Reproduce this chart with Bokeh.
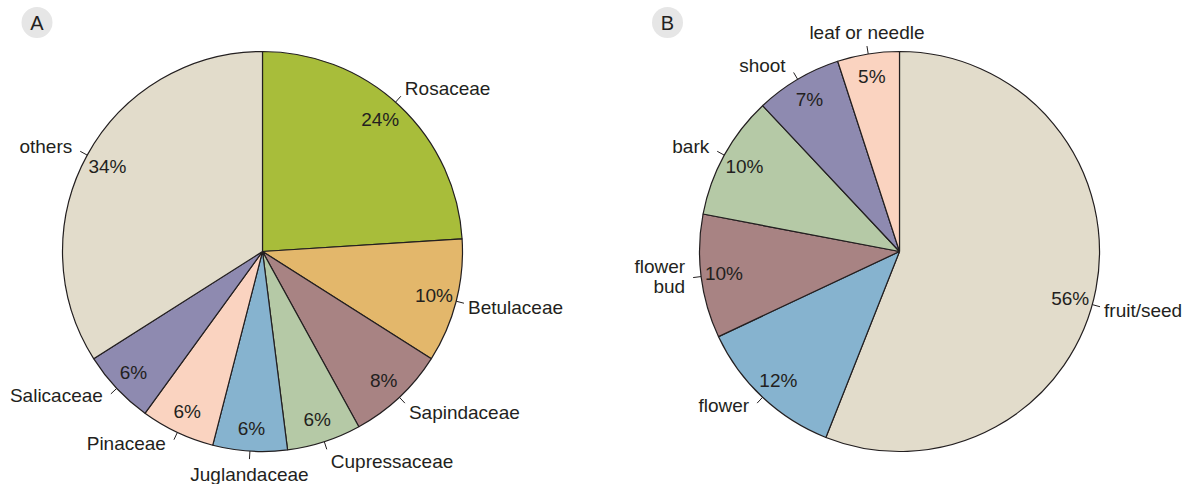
import math
from bokeh.plotting import figure
from bokeh.models import Range1d, ColumnDataSource
from bokeh.core.properties import value
from bokeh.embed import file_html
from bokeh.resources import INLINE

# ---- data ----
families = ["Rosaceae", "Betulaceae", "Sapindaceae", "Cupressaceae",
            "Juglandaceae", "Pinaceae", "Salicaceae", "others"]
family_pct = [24, 10, 8, 6, 6, 6, 6, 34]

organs = ["fruit/seed", "flower", "flower\nbud", "bark", "shoot", "leaf or needle"]
organ_pct = [56, 12, 10, 10, 7, 5]

# ---- styles / layout ----
family_colors = ["#a8bd3a", "#e3b76b", "#a88383", "#b5c9a6",
                 "#86b3cf", "#fad3c0", "#8e8ab0", "#e2dccb"]
organ_colors = ["#e2dccb", "#86b3cf", "#a88383", "#b5c9a6", "#8e8ab0", "#fad3c0"]
label_angle_nudge = {"fruit/seed": -4.6, "Rosaceae": 1.5}  # degrees, label placement only
INK = "#231f20"
FONT = value("Liberation Sans")
FS = "19px"

W, H = 1198, 484
p = figure(width=W, height=H, x_range=Range1d(0, W), y_range=Range1d(0, H),
           output_backend="svg", toolbar_location=None, min_border=0)
p.axis.visible = False
p.grid.visible = False
p.outline_line_color = None


def Y(img_y):
    return H - img_y


R = 200


def draw_pie(cx, cy, labels, pcts, colors):
    n = len(pcts)
    starts, ends, mids = [], [], []
    cum = 0
    for lab, v in zip(labels, pcts):
        a0 = 90 - cum * 3.6
        cum += v
        a1 = 90 - cum * 3.6
        starts.append(math.radians(a1))
        ends.append(math.radians(a0))
        mids.append(math.radians((a0 + a1) / 2 + label_angle_nudge.get(lab, 0)))
    src = ColumnDataSource(dict(x=[cx] * n, y=[cy] * n, start=starts, end=ends, color=colors))
    p.wedge(x="x", y="y", radius=R, start_angle="start", end_angle="end",
            fill_color="color", line_color=INK, line_width=1.2, source=src)

    # percentage labels
    rp = 177
    p.text(x=[cx + rp * math.cos(m) for m in mids], y=[cy + rp * math.sin(m) for m in mids],
           text=[f"{v}%" for v in pcts], text_align="center", text_baseline="middle",
           text_font=FONT, text_font_size=FS, text_color=INK)

    # leader lines
    r0, r1 = R, R + 8
    p.segment(x0=[cx + r0 * math.cos(m) for m in mids], y0=[cy + r0 * math.sin(m) for m in mids],
              x1=[cx + r1 * math.cos(m) for m in mids], y1=[cy + r1 * math.sin(m) for m in mids],
              line_color=INK, line_width=1)

    groups = {"left": ([], [], []), "right": ([], [], []), "center": ([], [], [])}
    for lab, m in zip(labels, mids):
        c, s = math.cos(m), math.sin(m)
        ex, ey = cx + r1 * c, cy + r1 * s
        if abs(c) < 0.25:
            g = "center"
            tx = ex
            ty = ey + (14 if s > 0 else -15)
        elif c > 0:
            g = "left"
            tx = ex + 4
            ty = ey + 12 * s - 1
        else:
            g = "right"
            tx = ex - 8
            ty = ey + 6 * s + 2
        groups[g][0].append(tx)
        groups[g][1].append(ty)
        groups[g][2].append(lab)
    for align, (xs, ys, ts) in groups.items():
        if xs:
            p.text(x=xs, y=ys, text=ts, text_align=align, text_baseline="middle",
                   text_font=FONT, text_font_size=FS, text_color=INK, text_line_height=0.95)


draw_pie(262, Y(251), families, family_pct, family_colors)
draw_pie(899, Y(251), organs, organ_pct, organ_colors)

# panel letters
p.circle(x=[36.5, 667], y=[Y(22), Y(22)], radius=15.5, fill_color="#e6e6e6", line_color=None)
p.text(x=[36.5, 667], y=[Y(22), Y(22)], text=["A", "B"], text_align="center",
       text_baseline="middle", text_font=FONT, text_font_size="20px", text_color=INK)

open("out.html", "w").write(file_html(p, INLINE))
